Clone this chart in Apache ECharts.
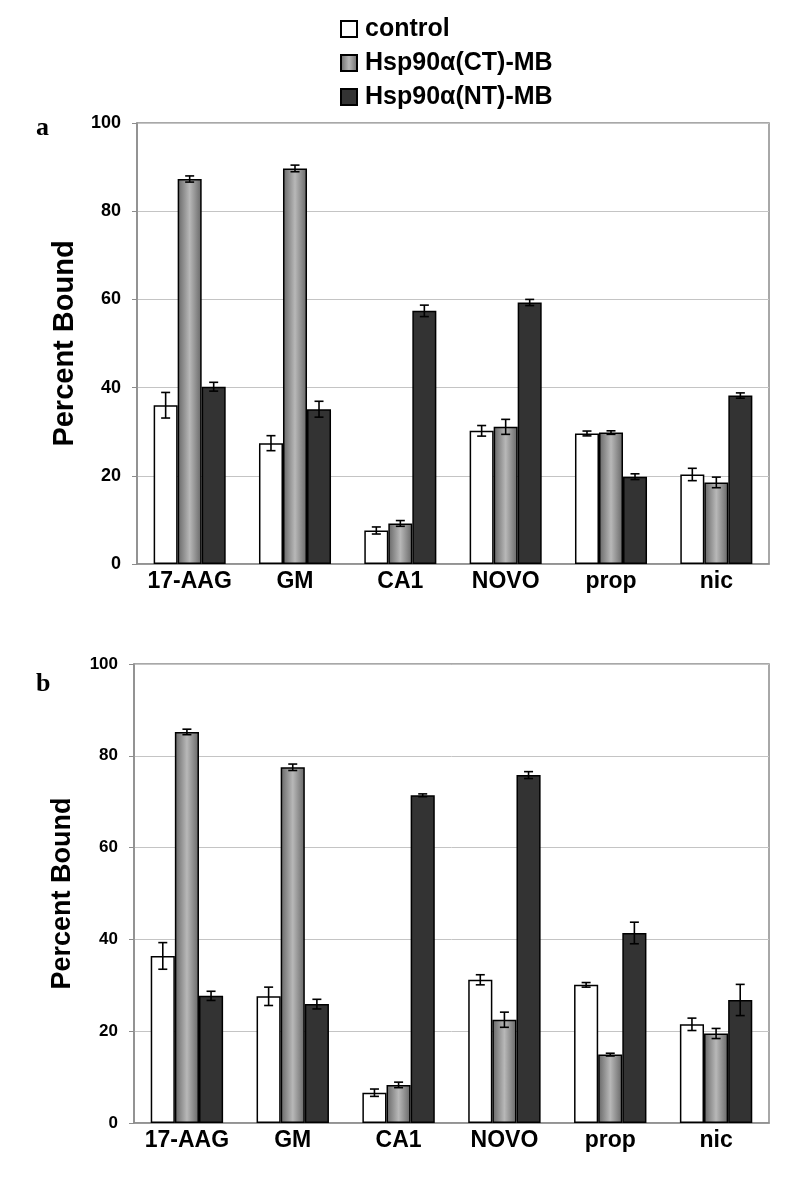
<!DOCTYPE html>
<html>
<head>
<meta charset="utf-8">
<script src="https://cdn.jsdelivr.net/npm/echarts@6/dist/echarts.min.js"></script>
<style>html,body{margin:0;padding:0;background:#fff}#c{width:800px;height:1195px}</style>
</head>
<body>
<div id="c"></div>
<script>
const categories = ['17-AAG', 'GM', 'CA1', 'NOVO', 'prop', 'nic'];
const seriesNames = ['control', 'Hsp90\u03b1(CT)-MB', 'Hsp90\u03b1(NT)-MB'];
const yTicks = [0, 20, 40, 60, 80, 100];

// Panel a
const controlA = [36.0, 27.4, 7.6, 30.2, 29.6, 20.3];
const ctA      = [87.3, 89.7, 9.2, 31.1, 29.8, 18.5];
const ntA      = [40.2, 35.1, 57.4, 59.3, 19.8, 38.2];
const controlAErr = [2.9, 1.7, 0.8, 1.2, 0.55, 1.4];
const ctAErr      = [0.7, 0.75, 0.65, 1.7, 0.4, 1.2];
const ntAErr      = [1.0, 1.8, 1.3, 0.7, 0.65, 0.6];

// Panel b
const controlB = [36.4, 27.6, 6.6, 31.2, 30.1, 21.5];
const ctB      = [85.2, 77.5, 8.3, 22.5, 14.9, 19.5];
const ntB      = [27.7, 25.9, 71.4, 75.8, 41.4, 26.8];
const controlBErr = [2.9, 2.0, 0.8, 1.1, 0.5, 1.35];
const ctBErr      = [0.6, 0.7, 0.6, 1.65, 0.3, 1.1];
const ntBErr      = [1.0, 1.05, 0.3, 0.75, 2.35, 3.4];

const BAR_FRAC = 0.228;
const chart = echarts.init(document.getElementById('c'), null, {renderer: 'canvas'});

const ctGradient = {type: 'linear', x: 0, y: 0, x2: 1, y2: 0, colorStops: [
  {offset: 0, color: '#666666'}, {offset: 0.5, color: '#b8b8b8'}, {offset: 1, color: '#666666'}]};
const styles = [
  {color: '#ffffff', borderColor: '#000', borderWidth: 1.5},
  {color: ctGradient, borderColor: '#000', borderWidth: 1.5},
  {color: '#333333', borderColor: '#000', borderWidth: 1.5}
];

function errData(vals, errs) {
  const out = [];
  vals.forEach((v, s) => v.forEach((val, i) => out.push([i, s, val, errs[s][i]])));
  return out;
}
function errRender(params, api) {
  const cat = api.value(0), s = api.value(1), v = api.value(2), e = api.value(3);
  const c = api.coord([cat, v]);
  const bw = api.size([1, 0])[0] * BAR_FRAC;
  const x = c[0] + (s - 1) * bw;
  const top = api.coord([cat, v + e])[1];
  const bot = api.coord([cat, v - e])[1];
  const cap = 4.5;
  const st = {stroke: '#000', lineWidth: 1.6};
  return {type: 'group', children: [
    {type: 'line', shape: {x1: x, y1: top, x2: x, y2: bot}, style: st},
    {type: 'line', shape: {x1: x - cap, y1: top, x2: x + cap, y2: top}, style: st},
    {type: 'line', shape: {x1: x - cap, y1: bot, x2: x + cap, y2: bot}, style: st}
  ]};
}

function xAxis(gi, fs) {
  return {type: 'category', gridIndex: gi, data: categories,
    axisTick: {show: false},
    axisLine: {lineStyle: {color: '#8c8c8c', width: 1.5}},
    axisLabel: {interval: 0, color: '#000', fontWeight: 'bold', fontSize: fs, fontFamily: 'Liberation Sans', margin: 6}};
}
function yAxis(gi, fs, nfs) {
  return {type: 'value', gridIndex: gi, min: yTicks[0], max: yTicks[yTicks.length - 1], interval: 20,
    name: 'Percent Bound', nameLocation: 'middle', nameGap: 58,
    nameTextStyle: {color: '#000', fontWeight: 'bold', fontSize: nfs, fontFamily: 'Liberation Sans'},
    axisLine: {show: true, lineStyle: {color: '#8c8c8c', width: 1.5}},
    axisTick: {show: true, length: 5, lineStyle: {color: '#8c8c8c'}},
    axisLabel: {color: '#000', fontWeight: 'bold', fontSize: fs, fontFamily: 'Liberation Sans', margin: 16},
    splitLine: {show: true, lineStyle: {color: '#c4c4c4', width: 1}}};
}

const series = [];
[[controlA, ctA, ntA], [controlB, ctB, ntB]].forEach((vals, gi) => {
  vals.forEach((v, s) => series.push({
    name: seriesNames[s], type: 'bar', xAxisIndex: gi, yAxisIndex: gi, data: v,
    barWidth: (BAR_FRAC * 100) + '%', barGap: '0%', itemStyle: styles[s], animation: false
  }));
});
series.push({type: 'custom', xAxisIndex: 0, yAxisIndex: 0, renderItem: errRender,
  data: errData([controlA, ctA, ntA], [controlAErr, ctAErr, ntAErr]), z: 10, animation: false});
series.push({type: 'custom', xAxisIndex: 1, yAxisIndex: 1, renderItem: errRender,
  data: errData([controlB, ctB, ntB], [controlBErr, ctBErr, ntBErr]), z: 10, animation: false});

chart.setOption({
  animation: false,
  backgroundColor: '#fff',
  title: [
    {text: 'a', left: 31, top: 110, textStyle: {fontFamily: 'Liberation Serif', fontWeight: 'bold', fontSize: 26, color: '#000'}},
    {text: 'b', left: 31, top: 666, textStyle: {fontFamily: 'Liberation Serif', fontWeight: 'bold', fontSize: 26, color: '#000'}}
  ],
  legend: {orient: 'vertical', left: 335, top: 11, itemWidth: 16, itemHeight: 16, itemGap: 8,
    data: seriesNames, icon: 'rect',
    textStyle: {color: '#000', fontWeight: 'bold', fontSize: 25, lineHeight: 26, fontFamily: 'Liberation Sans', padding: [0, 0, 0, 3]}},
  grid: [
    {left: 137, right: 31, top: 123, height: 441, show: true, borderColor: '#8c8c8c', borderWidth: 1.5, backgroundColor: 'transparent'},
    {left: 134, right: 31, top: 664, height: 459, show: true, borderColor: '#8c8c8c', borderWidth: 1.5, backgroundColor: 'transparent'}
  ],
  xAxis: [xAxis(0, 23), xAxis(1, 23)],
  yAxis: [yAxis(0, 18, 29), yAxis(1, 17, 27)],
  series: series
});
</script>
</body>
</html>
